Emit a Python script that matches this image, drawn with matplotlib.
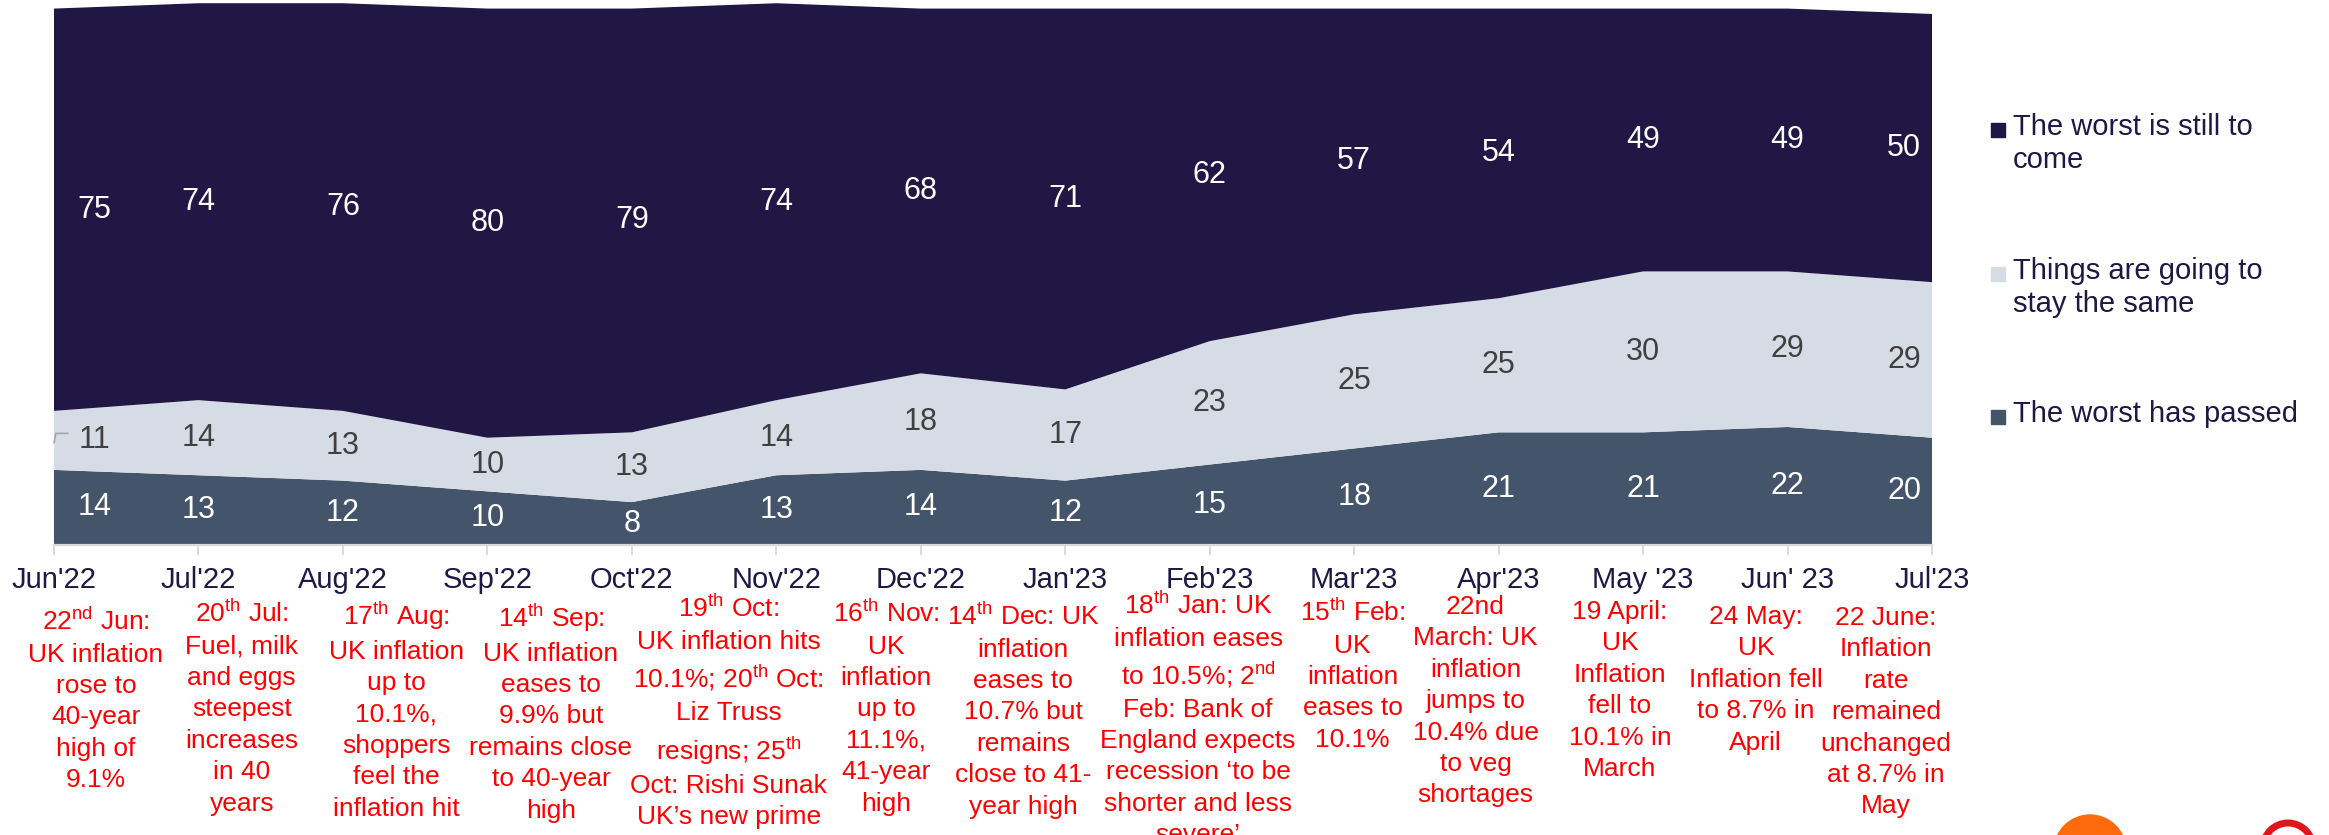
import matplotlib
matplotlib.use("Agg")
import matplotlib.pyplot as plt
from matplotlib.patches import Rectangle, Circle
from matplotlib.transforms import blended_transform_factory, IdentityTransform

# survey waves
months = ["Jun'22", "Jul'22", "Aug'22", "Sep'22", "Oct'22", "Nov'22", "Dec'22",
          "Jan'23", "Feb'23", "Mar'23", "Apr'23", "May '23", "Jun' 23", "Jul'23"]

worst_to_come = [75, 74, 76, 80, 79, 74, 68, 71, 62, 57, 54, 49, 49, 50]
stay_same = [11, 14, 13, 10, 13, 14, 18, 17, 23, 25, 25, 30, 29, 29]
worst_passed = [14, 13, 12, 10, 8, 13, 14, 12, 15, 18, 21, 21, 22, 20]

legend_names = ["The worst is still to\ncome", "Things are going to\nstay the same",
                "The worst has passed"]

notes = [
    "22$^{\\mathrm{nd}}$ Jun:\nUK inflation\nrose to\n40-year\nhigh of\n9.1%",
    "20$^{\\mathrm{th}}$ Jul:\nFuel, milk\nand eggs\nsteepest\nincreases\nin 40\nyears",
    "17$^{\\mathrm{th}}$ Aug:\nUK inflation\nup to\n10.1%,\nshoppers\nfeel the\ninflation hit",
    "14$^{\\mathrm{th}}$ Sep:\nUK inflation\neases to\n9.9% but\nremains close\nto 40-year\nhigh",
    "19$^{\\mathrm{th}}$ Oct:\nUK inflation hits\n10.1%; 20$^{\\mathrm{th}}$ Oct:\nLiz Truss\n"
    "resigns; 25$^{\\mathrm{th}}$\nOct: Rishi Sunak\nUK\u2019s new prime\nminister",
    "16$^{\\mathrm{th}}$ Nov:\nUK\ninflation\nup to\n11.1%,\n41-year\nhigh",
    "14$^{\\mathrm{th}}$ Dec: UK\ninflation\neases to\n10.7% but\nremains\nclose to 41-\nyear high",
    "18$^{\\mathrm{th}}$ Jan: UK\ninflation eases\nto 10.5%; 2$^{\\mathrm{nd}}$\nFeb: Bank of\n"
    "England expects\nrecession \u2018to be\nshorter and less\nsevere\u2019",
    "15$^{\\mathrm{th}}$ Feb:\nUK\ninflation\neases to\n10.1%",
    "22nd\nMarch: UK\ninflation\njumps to\n10.4% due\nto veg\nshortages",
    "19 April:\nUK\nInflation\nfell to\n10.1% in\nMarch",
    "24 May:\nUK\nInflation fell\nto 8.7% in\nApril",
    "22 June:\nInflation\nrate\nremained\nunchanged\nat 8.7% in\nMay",
]

NAVY = "#201744"
LIGHT = "#D6DCE5"
SLATE = "#44546A"

plt.rcParams["font.family"] = ["Liberation Sans", "DejaVu Sans"]
plt.rcParams["mathtext.fontset"] = "custom"
plt.rcParams["mathtext.rm"] = "Liberation Sans"
plt.rcParams["mathtext.it"] = "Liberation Sans:italic"
plt.rcParams["mathtext.bf"] = "Liberation Sans:bold"

W, H = 2329, 835
fig = plt.figure(figsize=(W / 100, H / 100), dpi=100)
ax = fig.add_axes([54 / W, 1 - 545 / H, (1932 - 54) / W, 545 / H])

x = list(range(len(months)))
ax.stackplot(x, worst_passed, stay_same, worst_to_come,
             colors=[SLATE, LIGHT, NAVY], linewidth=0)
ax.set_xlim(0, len(months) - 1)
ax.set_ylim(0, 101.6)

for s in ["top", "right", "left"]:
    ax.spines[s].set_visible(False)
ax.spines["bottom"].set_color("#D9D9D9")
ax.spines["bottom"].set_linewidth(1.6)
ax.set_yticks([])
ax.set_xticks(x)
ax.set_xticklabels(months, fontsize=21, color=NAVY)
ax.tick_params(axis="x", length=7, width=1.4, color="#D9D9D9", pad=8)

# data labels in the middle of each band
bottom = [0] * len(x)
for vals, col in [(worst_passed, "white"), (stay_same, "#404040"), (worst_to_come, "white")]:
    for i, v in enumerate(vals):
        dx = 0
        if i == 0:
            dx = 29
        elif i == len(x) - 1:
            dx = -20
        ax.annotate(str(v), (i, bottom[i] + v / 2), xytext=(dx, 0),
                    textcoords="offset points", ha="center", va="center",
                    fontsize=22, color=col)
    bottom = [b + v for b, v in zip(bottom, vals)]

# small leader line next to the first "same" label
ax.annotate("", (0, worst_passed[0] + stay_same[0] / 2 - 0.5), xytext=(10, 7),
            textcoords="offset points",
            arrowprops=dict(arrowstyle="-", color="#A6A6A6", lw=1.2,
                            shrinkA=0, shrinkB=0,
                            connectionstyle="angle,angleA=0,angleB=80,rad=0"))

# inflation news under each month
note_x = [0.29, 1.30, 2.37, 3.44, 4.67, 5.76, 6.71, 7.92, 8.99, 9.84, 10.84, 11.78, 12.68]
note_y = [618, 610, 610, 612, 605, 610, 613, 602, 609, 605, 610, 615, 616]
tr = blended_transform_factory(ax.transData, fig.transFigure)
for nx, ny, txt in zip(note_x, note_y, notes):
    ax.text(nx, 1 - (ny - 10) / H, txt, transform=tr, ha="center", va="top",
            fontsize=19, color="red", linespacing=1.39, clip_on=False)

# legend on the right
leg_y = [130, 274, 417]
for name, col, ly in zip(legend_names, [NAVY, LIGHT, SLATE], leg_y):
    fig.add_artist(Rectangle((1991 / W, 1 - (ly + 7) / H), 14 / W, 14 / H,
                             transform=fig.transFigure, color=col))
    fig.text(2013 / W, 1 - (ly - 17) / H, name, ha="left", va="top",
             fontsize=21, color=NAVY, linespacing=1.22)

# logos peeking in at the bottom right
fig.add_artist(Circle((2090, H - 851), 36, transform=IdentityTransform(),
                      color="#FF6A0C"))
fig.add_artist(Circle((2288, H - 848), 25, transform=IdentityTransform(),
                      fill=False, edgecolor="#E3141B", linewidth=5))

fig.savefig("out.png", dpi=100)
